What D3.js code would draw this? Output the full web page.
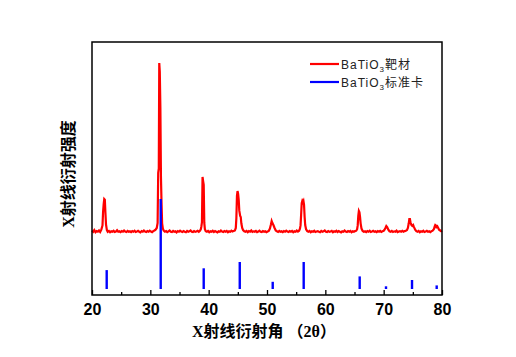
<!DOCTYPE html>
<html><head><meta charset="utf-8">
<script src="https://cdn.jsdelivr.net/npm/d3@7"></script>
<style>body{margin:0;background:#fff}svg{display:block}</style>
</head><body>
<svg id="c" width="516" height="357"></svg>
<script>
// Experimental pattern: [2θ, counts]
const expPattern = [
 [20.0,305],[20.2,300],[20.4,308],[20.6,298],[20.8,303],[21.0,300],[21.2,306],[21.4,299],[21.6,310],
 [21.8,330],[21.9,395],[22.0,430],[22.1,455],[22.2,452],[22.3,390],[22.4,335],[22.55,308],
 [22.7,300],[22.9,304],[23.1,298],[23.3,302],[23.5,300],[23.7,305],[23.9,299],[24.1,301],[24.3,307],
 [24.5,300],[24.7,302],[24.9,298],[25.1,303],[25.3,300],[25.5,306],[25.7,301],[25.9,299],[26.1,304],
 [26.3,300],[26.5,302],[26.7,298],[26.9,303],[27.1,300],[27.3,305],[27.5,299],[27.7,301],[27.9,304],
 [28.1,300],[28.3,297],[28.5,303],[28.7,300],[28.9,306],[29.1,301],[29.3,299],[29.5,303],[29.7,300],
 [29.9,305],[30.1,301],[30.3,298],[30.5,303],[30.7,306],[30.9,310],[31.1,318],
 [31.25,342],[31.35,579],[31.45,600],[31.53,1100],[31.62,1060],[31.72,892],[31.82,560],[31.92,436],
 [32.02,340],[32.15,315],[32.3,305],
 [32.5,300],[32.7,303],[32.9,298],[33.1,302],[33.3,306],[33.5,300],[33.7,299],[33.9,304],[34.1,300],
 [34.3,302],[34.5,297],[34.7,303],[34.9,300],[35.1,305],[35.3,301],[35.5,299],[35.7,303],[35.9,300],
 [36.1,298],[36.3,304],[36.5,300],[36.7,302],[36.9,306],[37.1,300],[37.3,299],[37.5,303],[37.7,300],
 [37.9,301],[38.1,304],[38.3,300],[38.5,305],
 [38.65,312],[38.75,325],[38.85,346],[38.95,560],[39.05,540],[39.15,522],[39.25,342],[39.35,312],
 [39.5,303],[39.7,300],[39.9,304],[40.1,298],[40.3,302],[40.5,300],[40.7,305],[40.9,299],[41.1,303],
 [41.3,300],[41.5,297],[41.7,302],[41.9,300],[42.1,306],[42.3,301],[42.5,299],[42.7,303],[42.9,300],
 [43.1,304],[43.3,298],[43.5,302],[43.7,300],[43.9,305],[44.1,301],[44.3,304],
 [44.5,306],[44.65,318],[44.75,365],[44.85,470],[44.95,493],[45.05,480],[45.15,451],[45.25,400],
 [45.4,375],[45.5,370],[45.6,340],[45.75,318],[45.9,308],
 [46.1,302],[46.3,300],[46.5,304],[46.7,298],[46.9,303],[47.1,300],[47.3,306],[47.5,299],[47.7,302],
 [47.9,300],[48.1,304],[48.3,298],[48.5,301],[48.7,305],[48.9,300],[49.1,299],[49.3,303],[49.5,300],
 [49.7,302],[49.9,298],[50.1,301],[50.3,304],
 [50.5,315],[50.65,332],[50.8,351],[50.95,340],[51.1,332],[51.3,318],[51.5,306],
 [51.7,302],[51.9,299],[52.1,304],[52.3,300],[52.5,302],[52.7,298],[52.9,303],[53.1,300],[53.3,305],
 [53.5,301],[53.7,299],[53.9,303],[54.1,300],[54.3,304],[54.5,298],[54.7,302],[54.9,300],[55.1,306],
 [55.3,301],[55.5,305],
 [55.65,315],[55.75,330],[55.85,380],[55.95,436],[56.05,446],[56.15,440],[56.25,446],[56.35,427],
 [56.45,370],[56.55,332],[56.7,312],[56.9,303],
 [57.1,300],[57.3,304],[57.5,298],[57.7,302],[57.9,300],[58.1,305],[58.3,299],[58.5,301],[58.7,303],
 [58.9,300],[59.1,298],[59.3,304],[59.5,300],[59.7,302],[59.9,306],[60.1,300],[60.3,299],[60.5,303],
 [60.7,300],[60.9,301],[61.1,304],[61.3,298],[61.5,302],[61.7,300],[61.9,305],[62.1,299],[62.3,303],
 [62.5,300],[62.7,297],[62.9,302],[63.1,300],[63.3,306],[63.5,301],[63.7,299],[63.9,303],[64.1,300],
 [64.3,304],[64.5,298],[64.7,302],[64.9,300],[65.1,303],[65.3,305],
 [65.45,312],[65.55,330],[65.65,375],[65.75,398],[65.85,392],[65.95,370],[66.05,340],[66.2,315],
 [66.4,304],[66.6,300],[66.8,302],[67.0,298],[67.2,303],[67.4,300],[67.6,305],[67.8,299],[68.0,301],
 [68.2,304],[68.4,300],[68.6,302],[68.8,298],[69.0,303],[69.2,300],[69.4,304],[69.6,299],[69.8,302],
 [70.0,304],[70.15,310],[70.3,318],[70.45,327],[70.6,322],[70.8,310],[71.0,302],
 [71.2,300],[71.4,304],[71.6,299],[71.8,302],[72.0,300],[72.2,305],[72.4,298],[72.6,301],[72.8,303],
 [73.0,300],[73.2,304],[73.4,300],[73.6,303],[73.8,305],
 [74.0,308],[74.15,318],[74.3,340],[74.4,360],[74.5,360],[74.6,345],[74.75,332],[74.9,328],[75.05,332],
 [75.2,322],[75.4,310],[75.6,303],
 [75.8,300],[76.0,304],[76.2,298],[76.4,302],[76.6,300],[76.8,305],[77.0,299],[77.2,301],[77.4,304],
 [77.6,300],[77.8,302],[78.0,298],[78.2,303],[78.4,305],
 [78.6,312],[78.75,325],[78.85,332],[78.95,330],[79.05,322],[79.2,326],[79.35,318],[79.5,310],
 [79.7,306],[79.85,303],[80.0,305]
];
// Standard card: 2θ positions and relative intensities
const stdTheta = [22.52,31.78,39.15,45.33,50.98,56.29,65.89,70.4,74.86,79.09];
const stdIntensity = [21,100,23,30,8,30,14,3,10,4];
const xTicks = [20,30,40,50,60,70,80];
const xMinorTicks = [25,35,45,55,65,75];
const legendLabels = [["BaTiO","3","靶材"],["BaTiO","3","标准卡"]];
const xTitle = "X射线衍射角 （2θ）";
const yTitle = "X射线衍射强度";

const svg = d3.select("#c");
const L=92, R=442, T=42, B=295;
const x = d3.scaleLinear().domain([20,80]).range([L,R]);
const yExp = d3.scaleLinear().domain([0,1200]).range([B,T]);
const yStd = d3.scaleLinear().domain([0,100]).range([289,199]);

svg.append("path").datum(expPattern)
  .attr("d", d3.line().x(d=>x(d[0])).y(d=>yExp(d[1])))
  .attr("fill","none").attr("stroke","#ff0000").attr("stroke-width",2.2).attr("stroke-linejoin","miter");

svg.selectAll("line.std").data(stdTheta).enter().append("line")
  .attr("class","std")
  .attr("x1",d=>x(d)).attr("x2",d=>x(d))
  .attr("y1",yStd(0)).attr("y2",(d,i)=>yStd(stdIntensity[i]))
  .attr("stroke","#0000ff").attr("stroke-width",2.4);

// axes
const ax = svg.append("g").attr("transform",`translate(0,${B})`)
  .call(d3.axisBottom(x).tickValues(xTicks).tickSizeInner(-5).tickSizeOuter(0).tickPadding(9).tickFormat(d3.format("d")));
ax.select(".domain").remove();
ax.selectAll(".tick line").attr("stroke","#000").attr("stroke-width",1.3);
ax.selectAll("text").attr("font-family","Liberation Sans, Arial, sans-serif").attr("font-weight","bold").attr("font-size",16).attr("fill","#000");
const axm = svg.append("g").attr("transform",`translate(0,${B})`)
  .call(d3.axisBottom(x).tickValues(xMinorTicks).tickSizeInner(-3).tickSizeOuter(0).tickFormat(""));
axm.select(".domain").remove();
axm.selectAll(".tick line").attr("stroke","#000").attr("stroke-width",1.3);

svg.append("rect").attr("x",L).attr("y",T).attr("width",R-L).attr("height",B-T)
  .attr("fill","none").attr("stroke","#000").attr("stroke-width",1.5);

// titles
svg.append("text").attr("x",(L+R)/2-3).attr("y",337)
  .attr("text-anchor","middle").attr("font-family","Liberation Serif, 'Noto Sans CJK SC', serif")
  .attr("font-weight","bold").attr("font-size",16).attr("fill","#000").text(xTitle);
svg.append("text").attr("transform","translate(74,174) rotate(-90)")
  .attr("text-anchor","middle").attr("font-family","Liberation Serif, 'Noto Sans CJK SC', serif")
  .attr("font-weight","bold").attr("font-size",16).attr("fill","#000").text(yTitle);

// legend
const colors = ["#ff0000","#0000ff"];
const lg = svg.append("g");
legendLabels.forEach((lab,i)=>{
  const yy = 64 + i*18;
  lg.append("line").attr("x1",310).attr("x2",339).attr("y1",yy).attr("y2",yy)
    .attr("stroke",colors[i]).attr("stroke-width",2.2);
  const t = lg.append("text").attr("x",341).attr("y",yy+4.5).attr("letter-spacing",1)
    .attr("font-family","Liberation Sans, Arial, 'Noto Sans CJK SC', sans-serif").attr("font-size",12).attr("fill","#222");
  t.append("tspan").text(lab[0]);
  t.append("tspan").attr("font-size",8).attr("dy",3).text(lab[1]);
  t.append("tspan").attr("dy",-3).text(lab[2]);
});
</script>
</body></html>
